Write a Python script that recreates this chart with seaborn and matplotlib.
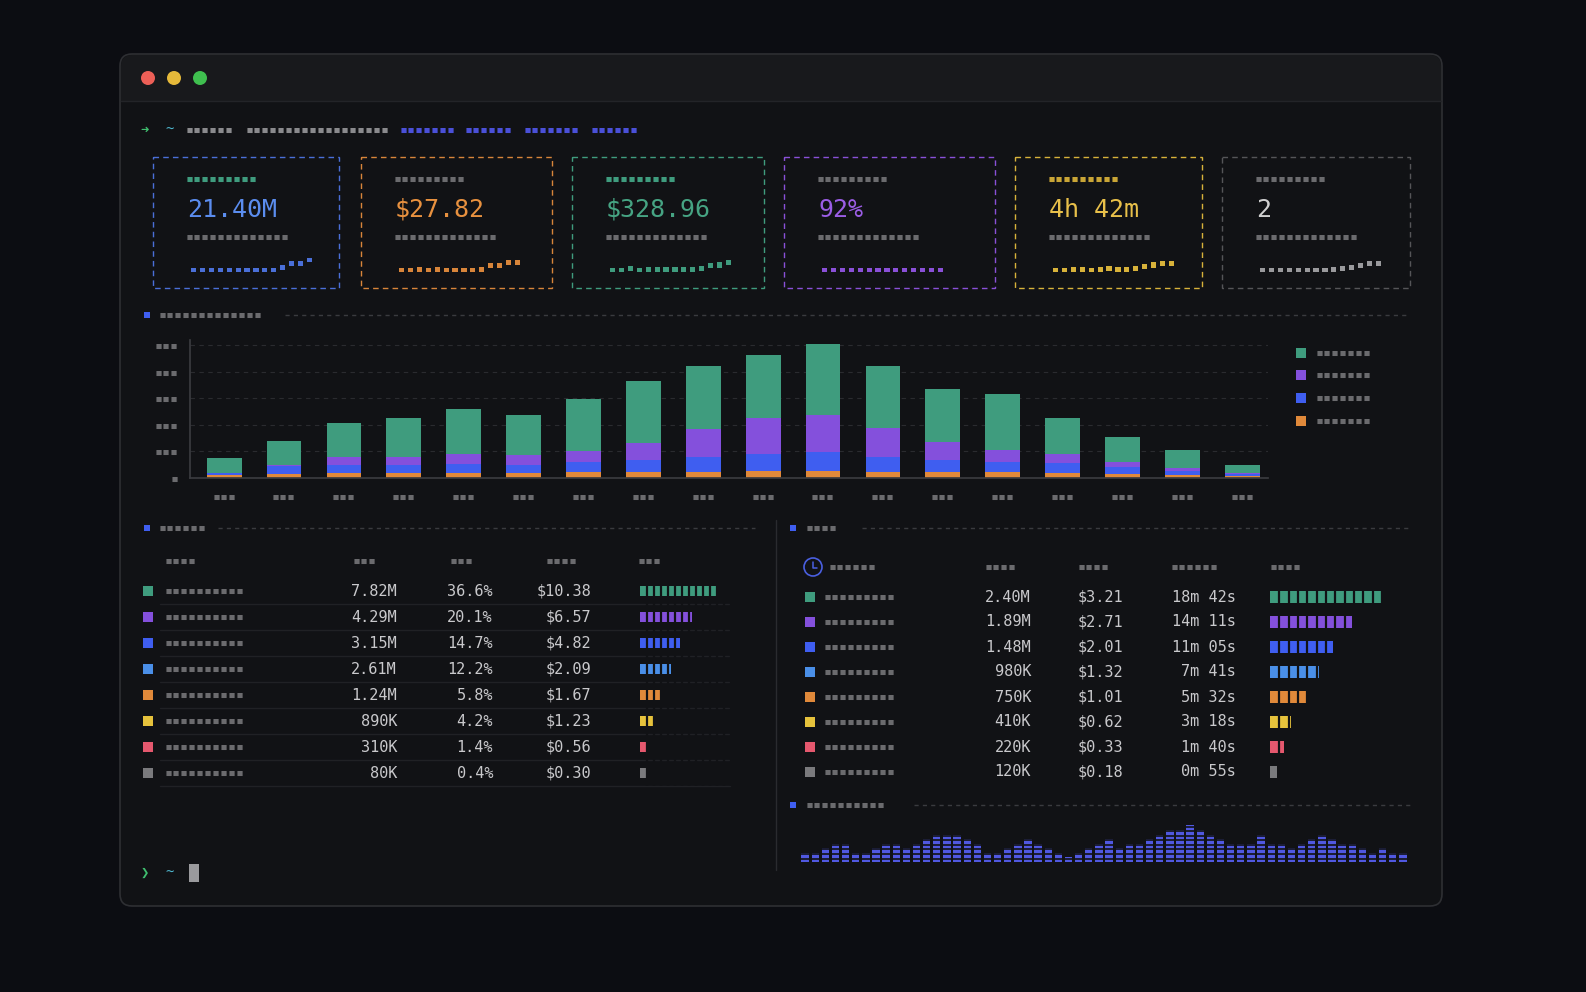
import matplotlib
matplotlib.use("Agg")
import matplotlib.pyplot as plt
from matplotlib.patches import FancyBboxPatch, Rectangle, Circle
import seaborn as sns
import pandas as pd
import numpy as np

W, H = 1586, 992
BG = "#0c0d12"; WIN = "#111215"; TITLE = "#18191c"
GRAY = "#6b6b6e"; TXT = "#c9c9cc"
GREEN = "#3f9c7e"; PURPLE = "#8450dc"; BLUE = "#3f5ef0"; ORANGE = "#e0893a"
LBLUE = "#4a8fe8"; YELLOW = "#e6c23c"; PINK = "#e5586e"; SGRAY = "#7a7a7d"
MONO = ["DejaVu Sans Mono", "DejaVu Sans"]

# ---------------- data ----------------
kpi_values = ["21.40M", "$27.82", "$328.96", "92%", "4h 42m", "2"]
kpi_colors = ["#5b8def", "#e8913f", "#46a483", "#9b5de5", "#e8c04a", "#d0d0d0"]
kpi_label_colors = [GREEN, GRAY, GREEN, GRAY, "#c9a536", GRAY]
kpi_spark = [
    [0, 0, 0, 0, 0, 0, 0, 0, 0, 0, 0.3, 0.8, 0.8, 1.2],
    [0, 0, 0.1, 0, 0.1, 0, 0, 0, 0, 0.1, 0.5, 0.5, 0.9, 0.9],
    [0, 0, 0.2, 0, 0.1, 0.1, 0.1, 0.1, 0.1, 0.1, 0.2, 0.5, 0.6, 0.9],
    [0, 0, 0, 0, 0, 0, 0, 0, 0, 0, 0, 0, 0, 0],
    [0, 0, 0.1, 0.1, 0, 0.1, 0.2, 0.1, 0.1, 0.2, 0.4, 0.6, 0.8, 0.8],
    [0, 0, 0, 0, 0, 0, 0, 0, 0.1, 0.2, 0.3, 0.5, 0.8, 0.8],
]

bar_total  = [74, 141, 207, 226, 259, 237, 296, 363, 422, 463, 504, 422, 333, 315, 226, 156, 107, 48]
bar_orange = [11, 15, 18, 18, 20, 20, 22, 22, 24, 26, 26, 24, 22, 22, 20, 16, 12, 6]
bar_blue   = [8, 30, 30, 30, 32, 30, 37, 45, 55, 66, 70, 55, 45, 40, 35, 25, 15, 8]
bar_purple = [0, 5, 32, 32, 40, 35, 43, 65, 105, 133, 140, 110, 70, 45, 35, 20, 10, 3]

left_tokens = ["7.82M", "4.29M", "3.15M", "2.61M", "1.24M", "890K", "310K", "80K"]
left_pct = ["36.6%", "20.1%", "14.7%", "12.2%", "5.8%", "4.2%", "1.4%", "0.4%"]
left_cost = ["$10.38", "$6.57", "$4.82", "$2.09", "$1.67", "$1.23", "$0.56", "$0.30"]
left_blocks = [11, 7.5, 5.7, 4.5, 3.2, 2.2, 1.0, 0.8]

right_tokens = ["2.40M", "1.89M", "1.48M", "980K", "750K", "410K", "220K", "120K"]
right_cost = ["$3.21", "$2.71", "$2.01", "$1.32", "$1.01", "$0.62", "$0.33", "$0.18"]
right_time = ["18m 42s", "14m 11s", "11m 05s", "7m 41s", "5m 32s", "3m 18s", "1m 40s", "0m 55s"]
right_blocks = [12, 8.8, 6.8, 5.2, 3.9, 2.2, 1.5, 0.8]

row_colors = [GREEN, PURPLE, BLUE, LBLUE, ORANGE, YELLOW, PINK, SGRAY]

hist_levels = [2, 2, 3, 4, 4, 2, 2, 3, 4, 4, 3, 4, 5, 6, 6, 6, 5, 4, 2, 2, 3, 4, 5, 4, 3, 2, 1, 2, 3, 4,
               5, 3, 4, 4, 5, 6, 7, 7, 8, 7, 6, 5, 4, 4, 4, 6, 4, 4, 3, 4, 5, 6, 5, 4, 4, 3, 2, 3, 2, 2]

# ---------------- figure ----------------
sns.set_theme(style="dark")
plt.rcParams["font.family"] = MONO
fig = plt.figure(figsize=(W / 100, H / 100), dpi=100, facecolor=BG)
ax0 = fig.add_axes([0, 0, 1, 1])
ax0.set_xlim(0, W); ax0.set_ylim(H, 0); ax0.axis("off"); ax0.set_facecolor(BG)


def pax(x0, y0, x1, y1):
    a = fig.add_axes([x0 / W, 1 - y1 / H, (x1 - x0) / W, (y1 - y0) / H])
    a.set_facecolor("none")
    return a


def blocks(x, y, n, color=GRAY, size=9.6, ha="left"):
    ax0.text(x, y, "▪" * n, color=color, fontsize=size, ha=ha, va="center", family=MONO)


def sq(x, y, c, s=10):
    ax0.add_patch(Rectangle((x, y - s / 2), s, s, fc=c, ec="none"))


def hdash(x0, x1, y, color="#3a3b3f"):
    ax0.plot([x0, x1], [y, y], color=color, lw=1, ls=(0, (3, 3)))


# window
ax0.add_patch(FancyBboxPatch((120, 54), 1322, 852, boxstyle="round,pad=0,rounding_size=12",
                             fc=WIN, ec="#2e2f33", lw=1.2))
ax0.add_patch(FancyBboxPatch((121, 55), 1320, 46, boxstyle="round,pad=0,rounding_size=11",
                             fc=TITLE, ec="none"))
ax0.add_patch(Rectangle((121, 90), 1320, 11, fc=TITLE, ec="none"))
ax0.plot([121, 1441], [101, 101], color="#232428", lw=1)
for cx, c in zip([148, 174, 200], ["#ec5f57", "#e5b93a", "#3fbf4f"]):
    ax0.add_patch(Circle((cx, 78), 7, fc=c, ec="none"))

# prompt
ax0.text(145, 130, "➜", color="#3fbf6f", fontsize=10, ha="center", va="center", family=MONO)
ax0.text(170, 130, "~", color="#4fb8d0", fontsize=10, ha="center", va="center", family=MONO)
blocks(186, 130, 6, "#8a8a8d"); blocks(246, 130, 18, "#8a8a8d")
for x, n in [(400, 7), (465, 6), (524, 7), (591, 6)]:
    blocks(x, 130, n, "#4a50d8")

# KPI cards
cards = [(153, 339), (361, 552), (572, 764), (784, 995), (1015, 1202), (1222, 1410)]
card_ec = ["#4a6fd8", "#d8853a", "#3f9c7e", "#8a50d8", "#d8b23a", "#555558"]
for i, (x0, x1) in enumerate(cards):
    ax0.add_patch(Rectangle((x0, 157), x1 - x0, 131, fc="none", ec=card_ec[i], lw=1, ls=(0, (4, 3))))
    blocks(x0 + 33, 179, 9, kpi_label_colors[i])
    ax0.text(x0 + 34, 210, kpi_values[i], color=kpi_colors[i], fontsize=18, ha="left", va="center", family=MONO)
    blocks(x0 + 33, 237, 13, GRAY)
    sa = pax(x0 + 35, 258, x0 + 162, 272)
    sdf = pd.DataFrame({"i": range(len(kpi_spark[i])), "v": kpi_spark[i]})
    sns.scatterplot(data=sdf, x="i", y="v", ax=sa, marker="s", s=14, color=card_ec[i] if i != 5 else "#9a9a9d",
                    edgecolor="none", legend=False)
    sa.set_ylim(-0.2, 1.4); sa.axis("off")

# section: main bar chart
sq(144, 315, BLUE, 6)
blocks(159, 315, 13, GRAY); hdash(285, 1410, 315)

cats = [str(i) for i in range(len(bar_total))]
c1 = np.array(bar_orange); c2 = c1 + bar_blue; c3 = c2 + bar_purple; c4 = np.array(bar_total)
ab = pax(190, 340, 1268, 478)
for vals, col in [(c4, GREEN), (c3, PURPLE), (c2, BLUE), (c1, ORANGE)]:
    sns.barplot(x=cats, y=vals, ax=ab, color=col, width=0.58, saturation=1, edgecolor="none")
ab.set_xlim(-0.57, 17.43); ab.set_ylim(0, 519)
ab.set_yticks([0, 100, 200, 300, 400, 500])
ab.set_yticklabels(["▪", "▪▪▪", "▪▪▪", "▪▪▪", "▪▪▪", "▪▪▪"], color=GRAY, fontsize=9.6, family=MONO)
ab.set_xticks(range(18)); ab.set_xticklabels(["▪▪▪"] * 18, color=GRAY, fontsize=9.6, family=MONO)
ab.tick_params(axis="x", pad=9, length=0); ab.tick_params(axis="y", pad=8, length=0)
ab.set_xlabel(""); ab.set_ylabel("")
for s in ["top", "right"]:
    ab.spines[s].set_visible(False)
for s in ["left", "bottom"]:
    ab.spines[s].set_visible(True); ab.spines[s].set_color("#3a3b3f")
ab.grid(False)
for v in [100, 200, 300, 400, 500]:
    ab.axhline(v, color="#2a2b2f", lw=0.8, ls=(0, (4, 4)), zorder=0)
for y, c in zip([353, 375, 398, 421], [GREEN, PURPLE, BLUE, ORANGE]):
    sq(1296, y, c)
    blocks(1316, y, 7, GRAY)

# left table
sq(144, 528, BLUE, 6)
blocks(159, 528, 6, GRAY); hdash(218, 755, 528)
for x, n in [(165, 4), (353, 3), (450, 3), (546, 4), (638, 3)]:
    blocks(x, 561, n, GRAY)
for i in range(8):
    y = 591 + 26 * i
    sq(143, y, row_colors[i])
    blocks(165, y, 10, GRAY)
    ax0.text(397, y, left_tokens[i], color=TXT, fontsize=11, ha="right", va="center", family=MONO)
    ax0.text(493, y, left_pct[i], color=TXT, fontsize=11, ha="right", va="center", family=MONO)
    ax0.text(591, y, left_cost[i], color=TXT, fontsize=11, ha="right", va="center", family=MONO)
    ax0.plot([160, 730], [y + 13, y + 13], color="#202125", lw=1)
al = pax(640, 578, 740, 786)
sns.barplot(x=left_blocks, y=[str(i) for i in range(8)], hue=[str(i) for i in range(8)], palette=row_colors,
            ax=al, orient="h", width=0.42, saturation=1, legend=False, edgecolor="none")
for k in range(1, 15):
    al.axvline(k, color=WIN, lw=1.6)
al.set_xlim(0, 14.3); al.axis("off")

# divider
ax0.plot([776, 776], [520, 870], color="#2a2b2f", lw=1)

# right table
sq(790, 528, BLUE, 6)
blocks(806, 528, 4, GRAY); hdash(862, 1410, 528)
ax0.add_patch(Circle((813, 567), 9, fc="none", ec="#4a5fe0", lw=1.2))
ax0.plot([813, 813, 817], [562, 568, 568], color="#4a5fe0", lw=1.1)
for x, n in [(829, 6), (985, 4), (1078, 4), (1171, 6), (1270, 4)]:
    blocks(x, 567, n, GRAY)
for i in range(8):
    y = 597 + 25 * i
    sq(805, y, row_colors[i])
    blocks(824, y, 9, GRAY)
    ax0.text(1031, y, right_tokens[i], color=TXT, fontsize=11, ha="right", va="center", family=MONO)
    ax0.text(1123, y, right_cost[i], color=TXT, fontsize=11, ha="right", va="center", family=MONO)
    ax0.text(1236, y, right_time[i], color=TXT, fontsize=11, ha="right", va="center", family=MONO)
ar = pax(1270, 584.5, 1410, 784.5)
sns.barplot(x=right_blocks, y=[str(i) for i in range(8)], hue=[str(i) for i in range(8)], palette=row_colors,
            ax=ar, orient="h", width=0.45, saturation=1, legend=False, edgecolor="none")
for k in range(1, 16):
    ar.axvline(k, color=WIN, lw=1.6)
ar.set_xlim(0, 15); ar.axis("off")

# histogram
sq(790, 805, BLUE, 6)
blocks(806, 805, 10, GRAY); hdash(914, 1410, 805)
ah = pax(800, 824, 1408, 862)
hx = [str(i) for i in range(len(hist_levels))]
sns.barplot(x=hx, y=hist_levels, ax=ah, color="#5058e0", width=0.72, saturation=1, edgecolor="none")
for k in range(1, 9):
    ah.axhline(k - 0.25, color=WIN, lw=1.2)
ah.set_xlim(-0.5, len(hist_levels) - 0.5); ah.set_ylim(0, 8.3); ah.axis("off")

# bottom prompt
ax0.text(145, 873, "❯", color="#3fbf6f", fontsize=10, ha="center", va="center", family=MONO)
ax0.text(170, 873, "~", color="#4fb8d0", fontsize=10, ha="center", va="center", family=MONO)
ax0.add_patch(Rectangle((189, 864), 10, 18, fc="#9a9a9d", ec="none"))

fig.savefig("out.png", dpi=100, facecolor=BG)
